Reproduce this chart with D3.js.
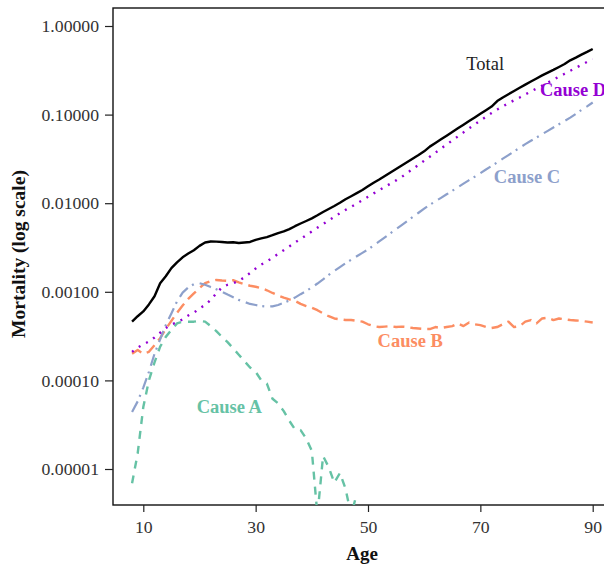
<!DOCTYPE html>
<html>
<head>
<meta charset="utf-8">
<script src="https://cdn.jsdelivr.net/npm/d3@7"></script>
<style>
  html, body { margin: 0; padding: 0; background: #fff; }
  svg { display: block; font-family: "Liberation Serif", "DejaVu Serif", serif; }
</style>
</head>
<body>
<svg id="chart" width="604" height="567"></svg>
<script>
// ---------------- data ----------------
const ages = d3.range(8, 91);           // 8..90
const agesA = d3.range(8, 49);          // 8..48

const totalVals = [
  4.6e-4, 5.3e-4, 6.0e-4, 7.2e-4, 8.9e-4, 1.25e-3, 1.5e-3, 1.85e-3, 2.15e-3, 2.45e-3,
  2.7e-3, 2.95e-3, 3.3e-3, 3.6e-3, 3.7e-3, 3.68e-3, 3.65e-3, 3.6e-3, 3.62e-3, 3.55e-3,
  3.6e-3, 3.65e-3, 3.85e-3, 4.0e-3, 4.15e-3, 4.35e-3, 4.6e-3, 4.8e-3, 5.1e-3, 5.5e-3,
  5.9e-3, 6.3e-3, 6.75e-3, 7.3e-3, 7.95e-3, 8.6e-3, 9.3e-3, 0.0101, 0.0111, 0.0120,
  0.0130, 0.0141, 0.0155, 0.0170, 0.0185, 0.0203, 0.0222, 0.0243, 0.0267, 0.0292,
  0.0320, 0.0350, 0.0385, 0.0435, 0.0478, 0.0526, 0.0578, 0.0636, 0.0700, 0.0770,
  0.0846, 0.0930, 0.1022, 0.1123, 0.1233, 0.142, 0.156, 0.170, 0.185, 0.201,
  0.218, 0.236, 0.256, 0.277, 0.298, 0.320, 0.345, 0.372, 0.41, 0.44,
  0.475, 0.51, 0.55
];

const causeAVals = [
  6.9e-6, 1.5e-5, 5.0e-5, 1.0e-4, 1.6e-4, 2.4e-4, 3.1e-4, 3.7e-4, 4.4e-4, 4.6e-4,
  4.6e-4, 4.6e-4, 4.7e-4, 4.6e-4, 4.1e-4, 3.6e-4, 3.1e-4, 2.7e-4, 2.3e-4, 1.95e-4,
  1.65e-4, 1.4e-4, 1.25e-4, 1.0e-4, 9.2e-5, 6.2e-5, 5.5e-5, 4.5e-5, 3.5e-5, 2.8e-5,
  2.75e-5, 2.2e-5, 1.6e-5, 3.0e-6, 1.4e-5, 1.05e-5, 7.0e-6, 9.0e-6, 6.0e-6, 3.0e-6,
  5.3e-6
];

const causeBVals = [
  2.0e-4, 2.2e-4, 2.0e-4, 2.1e-4, 2.5e-4, 3.0e-4, 3.8e-4, 4.7e-4, 5.8e-4, 7.0e-4,
  8.3e-4, 9.6e-4, 1.1e-3, 1.25e-3, 1.32e-3, 1.36e-3, 1.34e-3, 1.33e-3, 1.35e-3, 1.28e-3,
  1.22e-3, 1.17e-3, 1.14e-3, 1.1e-3, 1.04e-3, 9.7e-4, 9.1e-4, 8.6e-4, 8.2e-4, 7.9e-4,
  7.3e-4, 6.9e-4, 6.6e-4, 6.2e-4, 5.7e-4, 5.3e-4, 5.0e-4, 4.9e-4, 4.8e-4, 4.8e-4,
  4.7e-4, 4.6e-4, 4.3e-4, 4.1e-4, 4.0e-4, 4.05e-4, 4.1e-4, 4.0e-4, 4.05e-4, 4.0e-4,
  3.9e-4, 3.85e-4, 3.8e-4, 3.8e-4, 4.0e-4, 3.9e-4, 4.0e-4, 4.1e-4, 4.4e-4, 4.1e-4,
  4.5e-4, 4.3e-4, 4.2e-4, 4.0e-4, 3.9e-4, 4.0e-4, 4.3e-4, 4.6e-4, 4.0e-4, 4.1e-4,
  4.6e-4, 4.8e-4, 4.4e-4, 5.0e-4, 5.1e-4, 4.8e-4, 5.0e-4, 4.9e-4, 4.8e-4, 4.75e-4,
  4.7e-4, 4.6e-4, 4.5e-4
];

const causeCVals = [
  4.4e-5, 5.8e-5, 8.3e-5, 1.25e-4, 2.0e-4, 2.9e-4, 4.2e-4, 5.7e-4, 7.8e-4, 9.8e-4,
  1.12e-3, 1.22e-3, 1.25e-3, 1.2e-3, 1.13e-3, 1.07e-3, 1.0e-3, 9.3e-4, 8.7e-4, 8.1e-4,
  7.7e-4, 7.3e-4, 7.1e-4, 6.9e-4, 6.8e-4, 6.85e-4, 7.1e-4, 7.5e-4, 8.0e-4, 8.6e-4,
  9.4e-4, 1.02e-3, 1.12e-3, 1.24e-3, 1.38e-3, 1.55e-3, 1.72e-3, 1.9e-3, 2.1e-3, 2.3e-3,
  2.52e-3, 2.75e-3, 3.0e-3, 3.34e-3, 3.71e-3, 4.12e-3, 4.59e-3, 5.1e-3, 5.67e-3, 6.31e-3,
  7.01e-3, 7.8e-3, 8.67e-3, 9.6e-3, 0.0105, 0.0115, 0.0126, 0.0138, 0.0151, 0.0166,
  0.0182, 0.0199, 0.0218, 0.0240, 0.0263, 0.0289, 0.0318, 0.0349, 0.0384, 0.0422,
  0.0464, 0.0506, 0.0551, 0.0601, 0.0655, 0.0714, 0.0778, 0.0848, 0.0924, 0.102,
  0.113, 0.124, 0.137
];

const causeDVals = [
  2.1e-4, 2.35e-4, 2.55e-4, 2.75e-4, 3.05e-4, 3.45e-4, 3.9e-4, 4.3e-4, 4.5e-4, 4.9e-4,
  5.4e-4, 5.8e-4, 6.5e-4, 7.1e-4, 8.1e-4, 9.6e-4, 1.12e-3, 1.2e-3, 1.25e-3, 1.33e-3,
  1.46e-3, 1.63e-3, 1.83e-3, 2.03e-3, 2.2e-3, 2.42e-3, 2.68e-3, 2.95e-3, 3.25e-3, 3.6e-3,
  3.95e-3, 4.35e-3, 4.8e-3, 5.3e-3, 5.8e-3, 6.4e-3, 7.0e-3, 7.7e-3, 8.4e-3, 9.1e-3,
  9.9e-3, 0.0108, 0.0118, 0.0129, 0.0140, 0.0153, 0.0166, 0.0181, 0.0198, 0.0220,
  0.0244, 0.0271, 0.0302, 0.0335, 0.0372, 0.0414, 0.0460, 0.0511, 0.0567, 0.0630,
  0.0700, 0.0775, 0.0855, 0.0945, 0.104, 0.114, 0.124, 0.134, 0.145, 0.156,
  0.169, 0.182, 0.197, 0.212, 0.229, 0.248, 0.268, 0.289, 0.312, 0.337,
  0.364, 0.393, 0.42
];

const xTicks = [10, 30, 50, 70, 90];
const yTicks = [1, 0.1, 0.01, 0.001, 0.0001, 0.00001];

// ---------------- layout ----------------
const svg = d3.select("#chart");
const frame = { left: 113, top: 8, right: 612, bottom: 505 };

const x = d3.scaleLinear().domain([10, 90]).range([143.3, 592.7]);
const y = d3.scaleLog().domain([1, 0.00001]).range([26, 469]);

const clip = svg.append("defs").append("clipPath").attr("id", "plotclip")
  .append("rect")
  .attr("x", frame.left).attr("y", frame.top)
  .attr("width", frame.right - frame.left).attr("height", frame.bottom - frame.top);

// frame box
svg.append("rect")
  .attr("x", frame.left).attr("y", frame.top)
  .attr("width", frame.right - frame.left).attr("height", frame.bottom - frame.top)
  .attr("fill", "none").attr("stroke", "#111").attr("stroke-width", 1.4);

// axes
const yAxis = d3.axisLeft(y).tickValues(yTicks).tickFormat(d3.format(".5f"))
  .tickSize(8).tickPadding(6);
const gy = svg.append("g").attr("transform", `translate(${frame.left},0)`).call(yAxis);
gy.select(".domain").remove();
gy.selectAll(".tick line").attr("stroke", "#222").attr("stroke-width", 1.2);
gy.selectAll(".tick text").attr("font-size", "17.7px").attr("fill", "#333")
  .attr("font-family", "Liberation Serif, serif");

const xAxis = d3.axisBottom(x).tickValues(xTicks).tickFormat(d3.format("d"))
  .tickSize(7).tickPadding(8);
const gx = svg.append("g").attr("transform", `translate(0,${frame.bottom})`).call(xAxis);
gx.select(".domain").remove();
gx.selectAll(".tick line").attr("stroke", "#222").attr("stroke-width", 1.2);
gx.selectAll(".tick text").attr("font-size", "17.7px").attr("fill", "#333")
  .attr("font-family", "Liberation Serif, serif");

// axis titles
svg.append("text")
  .attr("x", 362).attr("y", 560)
  .attr("text-anchor", "middle")
  .attr("font-weight", "bold").attr("font-size", "19px").attr("fill", "#111")
  .text("Age");

svg.append("text")
  .attr("transform", "translate(25,254) rotate(-90)")
  .attr("text-anchor", "middle")
  .attr("font-weight", "bold").attr("font-size", "19.5px").attr("fill", "#111")
  .text("Mortality (log scale)");

// lines
const plot = svg.append("g").attr("clip-path", "url(#plotclip)");
const line = d3.line().x(d => x(d[0])).y(d => y(d[1]));

function addSeries(agesArr, vals, color, width, dash) {
  const pts = agesArr.map((a, i) => [a, vals[i]]);
  const p = plot.append("path")
    .attr("d", line(pts))
    .attr("fill", "none")
    .attr("stroke", color)
    .attr("stroke-width", width)
    .attr("stroke-linejoin", "round");
  if (dash) p.attr("stroke-dasharray", dash);
  return p;
}

addSeries(agesA, causeAVals, "#66c2a5", 2.4, "8,7");
addSeries(ages, causeBVals, "#fc8d62", 2.4, "11,6");
addSeries(ages, causeCVals, "#8da0cb", 2.2, "12,5,2,6");
addSeries(ages, causeDVals, "#9400d3", 2.4, "2,6.3");
addSeries(ages, totalVals, "#000000", 2.4, null);

// series labels
const labels = [
  { text: "Total",   age: 67.5, val: 0.32,    color: "#222",    weight: "normal" },
  { text: "Cause D", age: 80.6, val: 0.162,   color: "#9400d3", weight: "bold" },
  { text: "Cause C", age: 72.4, val: 0.0168,  color: "#8da0cb", weight: "bold" },
  { text: "Cause B", age: 51.7, val: 2.4e-4,  color: "#fc8d62", weight: "bold" },
  { text: "Cause A", age: 19.5, val: 4.25e-5, color: "#66c2a5", weight: "bold" }
];
svg.selectAll("text.series-label").data(labels).enter().append("text")
  .attr("class", "series-label")
  .attr("x", d => x(d.age)).attr("y", d => y(d.val))
  .attr("font-size", "18.5px")
  .attr("font-weight", d => d.weight)
  .attr("fill", d => d.color)
  .text(d => d.text);
</script>
</body>
</html>
